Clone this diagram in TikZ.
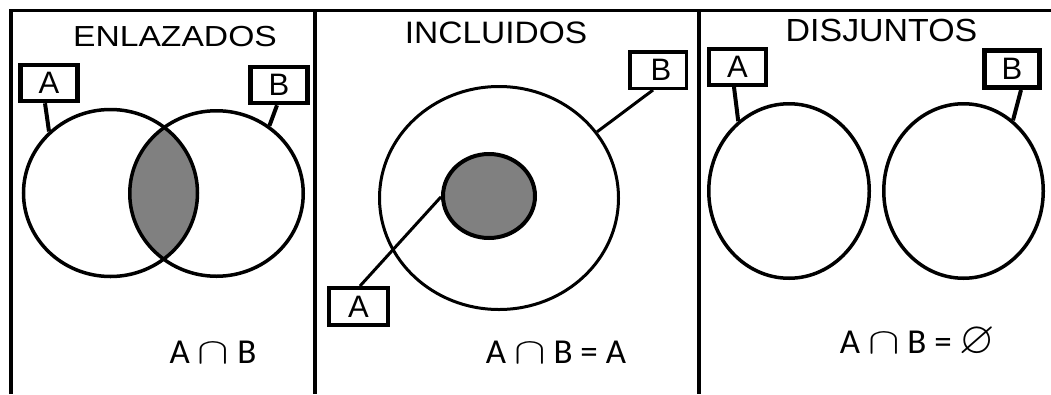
\RequirePackage{fix-cm}
\documentclass[tikz,border=0pt]{standalone}
\usepackage{amssymb}
\usepackage{fontspec}
\setmainfont{Liberation Sans}
\newfontfamily\formulafont{Carlito}
\usetikzlibrary{shapes.geometric}

\definecolor{lensgray}{RGB}{128,128,128}
% wide intersection sign and empty-set sign used in the formulas
\newcommand{\capsign}{\scalebox{1.35}[1.05]{$\cap$}}
\newcommand{\emptysign}{\scalebox{1.3}{$\varnothing$}}

\begin{document}
\begin{tikzpicture}[x=1pt,y=-1pt,
  frame/.style={line width=3.5pt},
  title/.style={inner sep=0pt},
  setbox/.style={draw, rectangle, inner sep=0pt, line width=4.5pt,
    minimum width=57pt, minimum height=36pt, font=\fontsize{31}{36}\selectfont},
  setcircle/.style={draw, ellipse, inner sep=0pt, line width=3.5pt},
  leader/.style={line width=4pt},
  formula/.style={inner sep=0pt, anchor=base, font=\formulafont\fontsize{35}{40}\selectfont},
]
\useasboundingbox (0,0) rectangle (1051,394);

% panel frame
\draw[frame] (11,394) -- (11,10.5) -- (1051,10.5);
\draw[frame] (315,10.5) -- (315,394);
\draw[frame] (699,10.5) -- (699,394);

% titles
\node[title, font=\fontsize{29}{34}\selectfont] (t1) at (175,36.5) {\scalebox{1.16}[1]{ENLAZADOS}};
\node[title, font=\fontsize{31}{36}\selectfont] (t2) at (496,33) {\scalebox{1.08}[1]{INCLUIDOS}};
\node[title, font=\fontsize{32}{37}\selectfont] (t3) at (881.5,30.5) {\scalebox{1.06}[1]{DISJUNTOS}};

% ---- overlapping sets ----
\coordinate (ca1) at (110.5,193);
\coordinate (cb1) at (216.5,193.5);
\begin{scope}
  \clip (ca1) ellipse [x radius=87, y radius=83.5];
  \fill[lensgray] (cb1) ellipse [x radius=86.75, y radius=82.75];
\end{scope}
\node[setcircle, minimum width=174pt, minimum height=167pt] (a1) at (ca1) {};
\node[setcircle, minimum width=173.5pt, minimum height=165.5pt] (b1) at (cb1) {};
\node[setbox] (boxA1) at (49,83) {A};
\node[setbox] (boxB1) at (279,85) {B};
\draw[leader] ([xshift=-4pt]boxA1.south) -- (a1.135);
\draw[leader] ([xshift=-2pt]boxB1.south) -- (b1.52);
\node[formula] (f1) at (213,363) {A \capsign{} B};

% ---- included sets ----
\node[setcircle, line width=3pt, minimum width=239pt, minimum height=223pt] (o2) at (499,198) {};
\node[setcircle, line width=4pt, fill=lensgray, minimum width=92pt, minimum height=84pt] (i2) at (489,196) {};
\node[setbox, line width=3.5pt, minimum width=56.5pt, minimum height=36.5pt] (boxB2) at (658,70) {\hspace*{6pt}B};
\node[setbox, line width=4pt, minimum width=59pt, minimum height=37pt] (boxA2) at (358.5,306.5) {A};
\draw[leader, line width=3pt] ([xshift=-5pt]boxB2.south) -- (o2.34);
\draw[leader, line width=3pt] ([xshift=1.5pt]boxA2.north) -- (i2.181);
\node[formula] (f2) at (556,363) {A \capsign{} B = A};

% ---- disjoint sets ----
\node[setcircle, minimum width=160.5pt, minimum height=174.5pt] (l3) at (789,191) {};
\node[setcircle, minimum width=159.5pt, minimum height=174.5pt] (r3) at (963.5,191) {};
\node[setbox, line width=4pt, minimum width=57pt, minimum height=36pt] (boxA3) at (737.5,67) {A};
\node[setbox, line width=5pt, minimum width=55pt, minimum height=37pt] (boxB3) at (1012,69) {B};
\draw[leader] ([xshift=-3.5pt]boxA3.south) -- (l3.126);
\draw[leader] ([xshift=9pt]boxB3.south) -- (r3.55);
\node[formula] (f3) at (917.5,353) {A \capsign{} B = \emptysign};
\end{tikzpicture}
\end{document}
